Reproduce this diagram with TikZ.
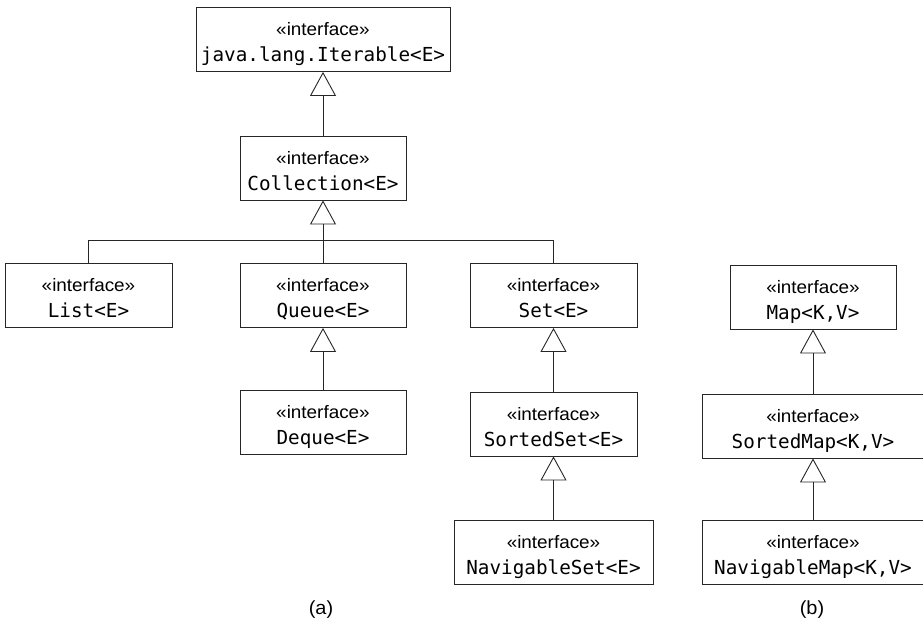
\documentclass[tikz,border=0pt]{standalone}
\usepackage{fontspec}
\usetikzlibrary{arrows.meta}

\newfontfamily\monofam{DejaVu Sans Mono}
\newfontfamily\sansfam[FakeStretch=1.05]{Liberation Sans}
\newcommand{\codetext}{\monofam\fontsize{19.3}{23}\selectfont}
\newcommand{\stereotext}{\sansfam\fontsize{18}{22}\selectfont}

\tikzset{
  iface/.style={draw=black!85, line width=0.85pt, minimum width=166pt, minimum height=64pt,
    inner sep=0pt, font=\codetext, text height=44pt, text depth=0pt,
    label={[stereo]center:«interface»}},
  stereo/.style={font=\stereotext, yshift=10pt},
  isa/.style={draw=black!85, line width=0.9pt, -{Triangle[open, width=26pt, length=24pt]}},
  link/.style={draw=black!85, line width=0.9pt},
  caption/.style={font=\sansfam\fontsize{19}{22}\selectfont}
}

\begin{document}
\begin{tikzpicture}[x=1pt, y=-1pt]
    \useasboundingbox (0,0) rectangle (923,622);

    % (a) Jerarquia de Collection
    \node[iface, minimum width=254pt] (iter) at (323, 39.5) {java.lang.Iterable<E>};
    \node[iface] (coll) at (323, 168) {Collection<E>};
    \node[iface, minimum width=167pt] (list) at (88.5, 295.5) {List<E>};
    \node[iface] (queue) at (323, 295.5) {Queue<E>};
    \node[iface, minimum width=167pt] (set) at (553.5, 295.5) {Set<E>};
    \node[iface] (deque) at (323, 422) {Deque<E>};
    \node[iface, minimum width=167pt] (sset) at (553.5, 424) {SortedSet<E>};
    \node[iface, minimum width=199pt] (nset) at (553.5, 552.5) {NavigableSet<E>};

    % (b) Jerarquia de Map
    \node[iface] (map) at (813, 297) {Map<K,V>};
    \node[iface, minimum width=222pt] (smap) at (813, 426) {SortedMap<K,V>};
    \node[iface, minimum width=222pt] (nmap) at (813, 552) {NavigableMap<K,V>};

    % Herencia
    \draw[isa] (coll.north) -- (iter.south);
    \coordinate (bus) at ([yshift=-40pt]coll.south);
    \draw[link] (list.north) |- (bus) -| (set.north);
    \draw[isa] (queue.north) -- (coll.south);
    \draw[isa] (deque.north) -- (queue.south);
    \draw[isa] (sset.north) -- (set.south);
    \draw[isa] (nset.north) -- (sset.south);
    \draw[isa] (smap.north) -- (map.south);
    \draw[isa] (nmap.north) -- (smap.south);

    % Etiquetas
    \node[caption] (capa) at (321, 610) {(a)};
    \node[caption] (capb) at (812, 610) {(b)};
\end{tikzpicture}
\end{document}
